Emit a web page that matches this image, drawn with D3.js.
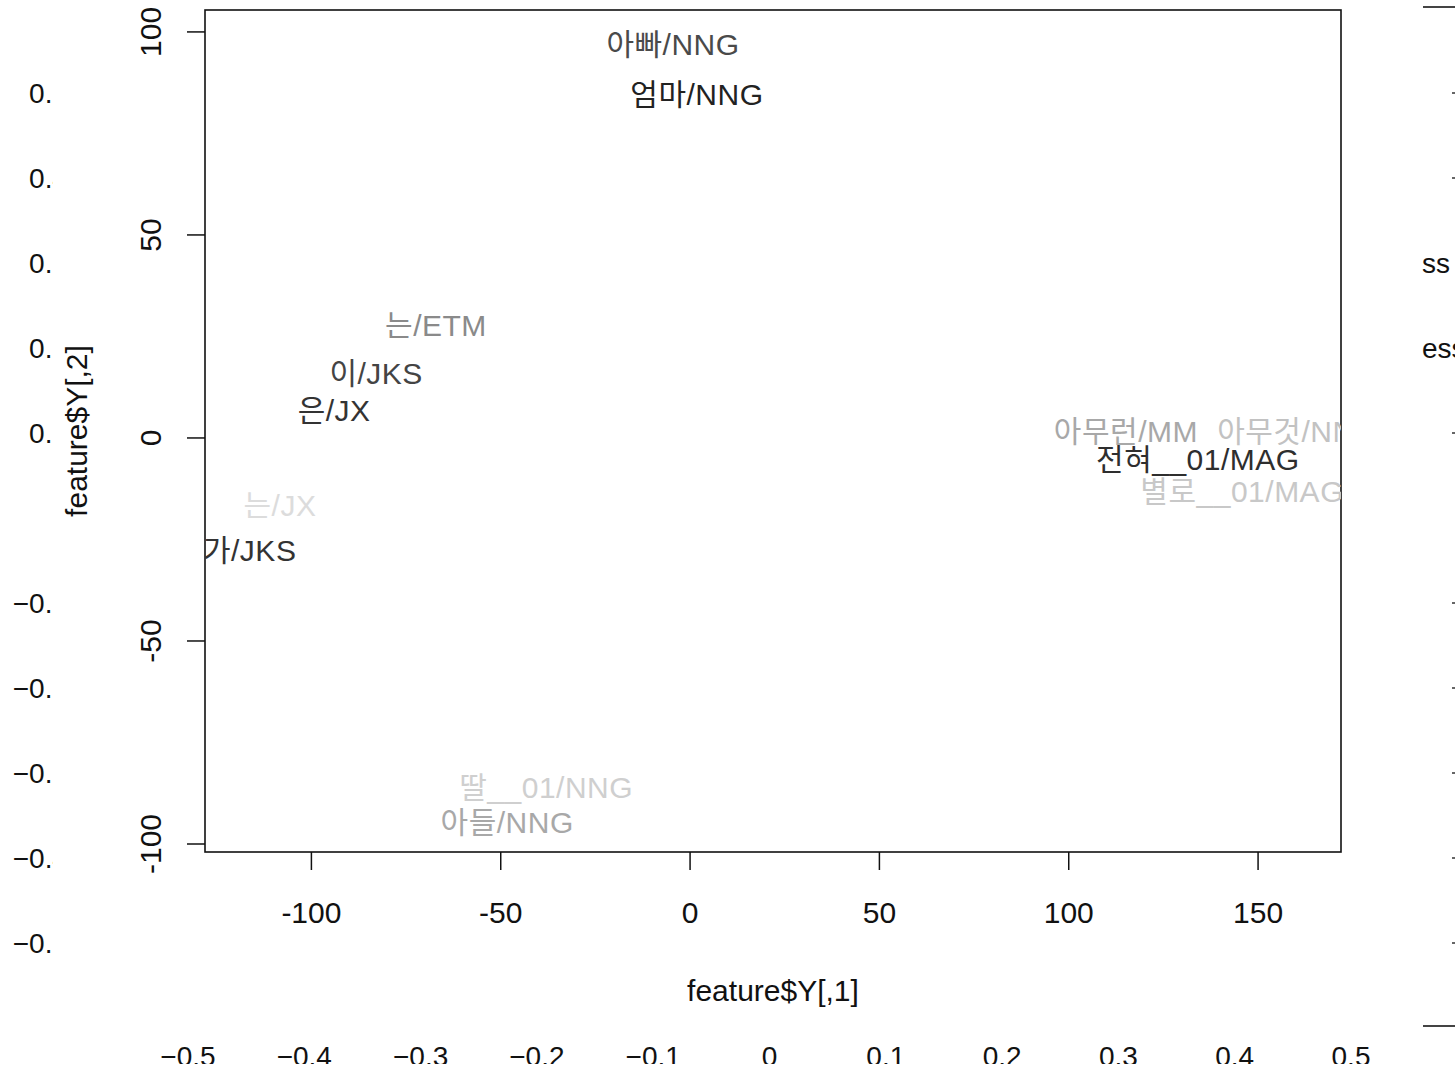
<!DOCTYPE html>
<html>
<head>
<meta charset="utf-8">
<script src="https://cdn.jsdelivr.net/npm/d3@7"></script>
<style>
  html, body { margin: 0; padding: 0; background: #fff; }
  svg { display: block; }
</style>
</head>
<body>
<div id="chart"></div>
<script>
// word labels from the 2-D embedding
const words = ["아빠/NNG", "엄마/NNG", "는/ETM", "이/JKS", "은/JX", "는/JX", "가/JKS",
  "딸__01/NNG", "아들/NNG", "아무런/MM", "아무것/NNG", "전혀__01/MAG", "별로__01/MAG"];
const dim1 = [-4.5, 1.8, -67.1, -82.9, -94.0, -108.3, -116.3, -38.0, -48.3, 115.1, 160.5, 134.1, 145.8];
const dim2 = [97.0, 84.7, 27.6, 15.9, 6.7, -16.7, -27.8, -86.2, -94.8, 1.7, 1.7, -5.4, -13.1];
const greys = ["#4a4a4a", "#222", "#8a8a8a", "#444", "#333", "#dcdcdc", "#333",
  "#cfcfcf", "#a8a8a8", "#a8a8a8", "#c2c2c2", "#2e2e2e", "#c8c8c8"];

const xTicks = [-100, -50, 0, 50, 100, 150];
const yTicks = [-100, -50, 0, 50, 100];

// leftover axis from a plot underneath
const ghostTicks = [-0.5, -0.4, -0.3, -0.2, -0.1, 0, 0.1, 0.2, 0.3, 0.4, 0.5];
const ghostRightText = [null, null, null, null, null, null, null, "ess", "ss", null, null];

const width = 1455, height = 1071;
const font = "'Liberation Sans', Arial, 'Noto Sans CJK KR', sans-serif";
const box = { left: 205, right: 1341, top: 10, bottom: 852 };

const x = d3.scaleLinear().domain([-128.1, 171.9]).range([box.left, box.right]);
const y = d3.scaleLinear().domain([-101.97, 105.4]).range([box.bottom, box.top]);

const svg = d3.select("#chart").append("svg")
    .attr("width", width)
    .attr("height", height)
    .style("font-family", font);

const defs = svg.append("defs");
defs.append("clipPath").attr("id", "plotclip")
  .append("rect")
    .attr("x", box.left).attr("y", box.top)
    .attr("width", box.right - box.left).attr("height", box.bottom - box.top);
defs.append("clipPath").attr("id", "leftclip")
  .append("rect").attr("x", 0).attr("y", 0).attr("width", 53).attr("height", height);
defs.append("clipPath").attr("id", "bottomclip")
  .append("rect").attr("x", 0).attr("y", 0).attr("width", width).attr("height", 1064);

// ghost axes
const gy = d3.scaleLinear().domain([-0.5, 0.5]).range([943, 93]);
const gx = d3.scaleLinear().domain([-0.5, 0.5]).range([188, 1351]);
const gfmt = d => d === 0 ? "0" : (d < 0 ? "\u2212" : "") + Math.abs(d).toFixed(1);

svg.append("g").attr("clip-path", "url(#leftclip)")
  .selectAll("text")
  .data(ghostTicks.filter(d => d !== 0))
  .join("text")
    .attr("x", 68)
    .attr("y", d => gy(d))
    .attr("dy", "0.35em")
    .attr("text-anchor", "end")
    .attr("font-size", 28)
    .attr("fill", "#111")
    .text(gfmt);

svg.append("g").attr("clip-path", "url(#bottomclip)")
  .selectAll("text")
  .data(ghostTicks)
  .join("text")
    .attr("x", d => gx(d))
    .attr("y", 1066)
    .attr("text-anchor", "middle")
    .attr("font-size", 28)
    .attr("fill", "#111")
    .text(gfmt);

const right = svg.append("g");
right.append("line").attr("x1", 1423).attr("x2", width).attr("y1", 7).attr("y2", 7)
  .attr("stroke", "#444").attr("stroke-width", 2);
right.append("line").attr("x1", 1423).attr("x2", width).attr("y1", 1026).attr("y2", 1026)
  .attr("stroke", "#444").attr("stroke-width", 2);
right.selectAll("rect.dot")
  .data(ghostTicks.filter((d, i) => d !== 0 && !ghostRightText[i]))
  .join("rect")
    .attr("class", "dot")
    .attr("x", 1452).attr("y", d => gy(d) - 1)
    .attr("width", 3).attr("height", 2)
    .attr("fill", "#666");
right.selectAll("text")
  .data(ghostTicks.map((d, i) => ({ d, t: ghostRightText[i] })).filter(o => o.t))
  .join("text")
    .attr("x", 1422)
    .attr("y", o => gy(o.d))
    .attr("dy", "0.35em")
    .attr("font-size", 28)
    .attr("fill", "#111")
    .text(o => o.t);

// main plot box
svg.append("rect")
    .attr("x", box.left).attr("y", box.top)
    .attr("width", box.right - box.left).attr("height", box.bottom - box.top)
    .attr("fill", "none").attr("stroke", "#111").attr("stroke-width", 1.6);

// x axis
const xa = svg.append("g");
xa.selectAll("line").data(xTicks).join("line")
    .attr("x1", d => x(d)).attr("x2", d => x(d))
    .attr("y1", box.bottom).attr("y2", box.bottom + 18)
    .attr("stroke", "#111").attr("stroke-width", 1.5);
xa.selectAll("text").data(xTicks).join("text")
    .attr("x", d => x(d)).attr("y", 912)
    .attr("dy", "0.35em")
    .attr("text-anchor", "middle")
    .attr("font-size", 30).attr("fill", "#111")
    .text(d => d);

// y axis
const ya = svg.append("g");
ya.selectAll("line").data(yTicks).join("line")
    .attr("x1", box.left - 18).attr("x2", box.left)
    .attr("y1", d => y(d)).attr("y2", d => y(d))
    .attr("stroke", "#111").attr("stroke-width", 1.5);
ya.selectAll("text").data(yTicks).join("text")
    .attr("transform", d => `translate(150,${y(d)}) rotate(-90)`)
    .attr("dy", "0.35em")
    .attr("text-anchor", "middle")
    .attr("font-size", 30).attr("fill", "#111")
    .text(d => d);

// axis titles
svg.append("text")
    .attr("x", (box.left + box.right) / 2).attr("y", 990)
    .attr("dy", "0.35em")
    .attr("text-anchor", "middle")
    .attr("font-size", 30).attr("fill", "#111")
    .text("feature$Y[,1]");
svg.append("text")
    .attr("transform", `translate(76,${(box.top + box.bottom) / 2}) rotate(-90)`)
    .attr("dy", "0.35em")
    .attr("text-anchor", "middle")
    .attr("font-size", 30).attr("fill", "#111")
    .text("feature$Y[,2]");

// word labels
const pts = words.map((w, i) => ({ w, x: dim1[i], y: dim2[i], c: greys[i] }));
svg.append("g").attr("clip-path", "url(#plotclip)")
  .selectAll("text")
  .data(pts)
  .join("text")
    .attr("x", d => x(d.x))
    .attr("y", d => y(d.y))
    .attr("dy", "0.35em")
    .attr("text-anchor", "middle")
    .attr("font-size", 30)
    .attr("letter-spacing", 0.5)
    .attr("fill", d => d.c)
    .text(d => d.w);
</script>
</body>
</html>
